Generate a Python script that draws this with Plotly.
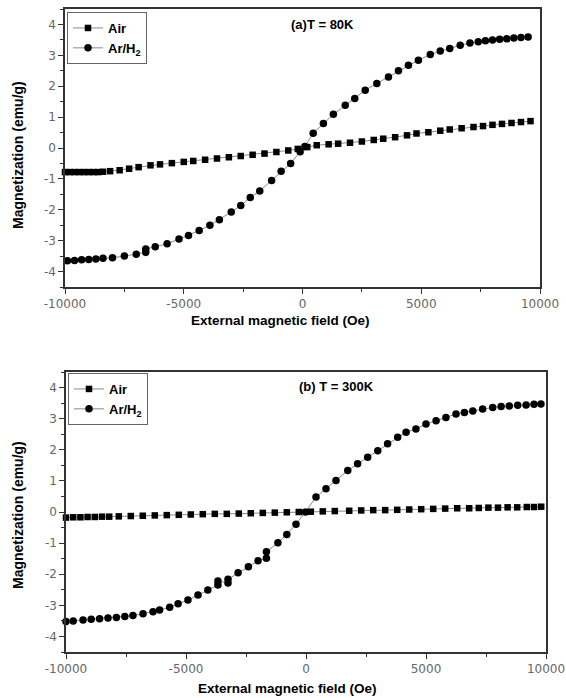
import plotly.graph_objects as go

W, H = 566, 698

# ---------------- data ----------------
# (a) T = 80K
air80_x = [-10000, -9800, -9600, -9400, -9200, -9000, -8800, -8600, -8400, -8100, -7700, -7300,
           -6900, -6400, -6000, -5500, -5000, -4600, -4100, -3600, -3100, -2600, -2100, -1600,
           -1100, -600, -200, 200, 600, 1100, 1500, 2000, 2500, 3000, 3400, 3900, 4400, 4800,
           5300, 5800, 6200, 6700, 7200, 7600, 8000, 8400, 8800, 9200, 9600]
air80_y = [-0.78, -0.78, -0.78, -0.78, -0.78, -0.78, -0.78, -0.78, -0.77, -0.75, -0.72, -0.67,
           -0.62, -0.56, -0.53, -0.49, -0.45, -0.42, -0.38, -0.34, -0.30, -0.26, -0.22, -0.18,
           -0.13, -0.08, -0.03, 0.03, 0.09, 0.12, 0.14, 0.17, 0.21, 0.26, 0.30, 0.35, 0.41, 0.47,
           0.51, 0.56, 0.60, 0.64, 0.68, 0.71, 0.75, 0.78, 0.81, 0.84, 0.87]

arh80_x = [-9900, -9600, -9300, -9000, -8700, -8400, -8000, -7500, -7000, -6600, -6600, -6200,
           -5700, -5200, -4800, -4350, -3900, -3500, -3000, -2600, -2200, -1800, -1300, -900,
           -500, -100, 100, 450, 880, 1300, 1800, 2200, 2640, 3130, 3620, 4040, 4460, 4880,
           5380, 5800, 6200, 6640, 7050, 7400, 7700, 8000, 8300, 8600, 8900, 9200, 9500]
arh80_y = [-3.65, -3.64, -3.62, -3.61, -3.59, -3.57, -3.55, -3.50, -3.44, -3.38, -3.27, -3.20,
           -3.10, -2.95, -2.83, -2.67, -2.50, -2.32, -2.07, -1.86, -1.60, -1.39, -1.05, -0.75,
           -0.50, -0.12, 0.05, 0.48, 0.79, 1.09, 1.38, 1.60, 1.87, 2.09, 2.30, 2.50, 2.68, 2.84,
           3.03, 3.14, 3.22, 3.33, 3.40, 3.44, 3.47, 3.50, 3.52, 3.54, 3.56, 3.58, 3.59]

# (b) T = 300K
air300_x = [-10000, -9700, -9400, -9100, -8800, -8500, -8200, -7800, -7300, -6800, -6300, -5800,
            -5300, -4800, -4300, -3800, -3300, -2800, -2300, -1800, -1300, -800, -300, 200, 700,
            1200, 1800, 2300, 2800, 3300, 3800, 4300, 4800, 5300, 5800, 6300, 6800, 7200, 7600,
            8000, 8400, 8800, 9200, 9500, 9800]
air300_y = [-0.18, -0.17, -0.17, -0.16, -0.16, -0.15, -0.15, -0.14, -0.13, -0.12, -0.11, -0.10,
            -0.09, -0.08, -0.07, -0.06, -0.06, -0.05, -0.04, -0.03, -0.02, -0.01, 0.00, 0.01, 0.02,
            0.03, 0.04, 0.05, 0.06, 0.06, 0.07, 0.08, 0.09, 0.10, 0.11, 0.12, 0.12, 0.13, 0.14,
            0.14, 0.15, 0.15, 0.16, 0.16, 0.17]

arh300_x = [-10000, -9700, -9290, -8950, -8600, -8250, -7900, -7550, -7210, -6790, -6375, -6100,
            -5680, -5330, -4920, -4500, -4090, -3670, -3670, -3250, -3250, -2830, -2400, -2000,
            -1650, -1650, -1170, -800, -417, -25, 417, 833, 1250, 1740, 2150, 2570, 2990, 3400,
            3820, 4170, 4580, 5000, 5420, 5830, 6250, 6600, 6950, 7360, 7780, 8130, 8470, 8820,
            9170, 9500, 9790]
arh300_y = [-3.52, -3.50, -3.47, -3.45, -3.43, -3.41, -3.39, -3.36, -3.33, -3.27, -3.21, -3.15,
            -3.06, -2.95, -2.83, -2.67, -2.51, -2.35, -2.22, -2.28, -2.16, -1.95, -1.76, -1.57,
            -1.49, -1.28, -0.99, -0.72, -0.39, 0.00, 0.48, 0.75, 1.01, 1.33, 1.55, 1.76, 1.97,
            2.19, 2.40, 2.56, 2.67, 2.83, 2.93, 3.04, 3.15, 3.20, 3.25, 3.31, 3.36, 3.39, 3.41,
            3.43, 3.44, 3.46, 3.47]

series_names = ["Air", "Ar/H<sub>2</sub>"]
panel_labels = ["(a)T = 80K", "(b) T = 300K"]
x_title = "External magnetic field (Oe)"
y_title = "Magnetization (emu/g)"
x_tickvals = [-10000, -5000, 0, 5000, 10000]
x_ticktext = ["-10000", "-5000", "0", "5000", "10000"]
y_tickvals = [-4, -3, -2, -1, 0, 1, 2, 3, 4]
y_ticktext = ["-4", "-3", "-2", "-1", "0", "1", "2", "3", "4"]
x_range = [-10000, 10000]
y_range = [-4.5, 4.5]

# ---------------- figure ----------------
fig = go.Figure()
line_style = dict(color="#8a8a8a", width=1)

panels = [
    ("x", "y", "legend", air80_x, air80_y, arh80_x, arh80_y),
    ("x2", "y2", "legend2", air300_x, air300_y, arh300_x, arh300_y),
]
for xa, ya, lg, ax_, ay_, bx_, by_ in panels:
    fig.add_trace(go.Scatter(x=ax_, y=ay_, mode="lines+markers", name=series_names[0],
                             xaxis=xa, yaxis=ya, legend=lg, line=line_style,
                             marker=dict(symbol="square", size=6.5, color="black"),
                             cliponaxis=False))
    fig.add_trace(go.Scatter(x=bx_, y=by_, mode="lines+markers", name=series_names[1],
                             xaxis=xa, yaxis=ya, legend=lg, line=line_style,
                             marker=dict(symbol="circle", size=7.5, color="black"),
                             cliponaxis=False))

def px_x(p):
    return p / W

def px_y(p):
    return 1 - p / H

tickfont = dict(family="DejaVu Sans", size=12, color="#666666")
titlefont = dict(family="Liberation Sans, Arial", size=13.5, color="black", weight="bold")
ytitlefont = dict(family="Liberation Sans Narrow, Liberation Sans, Arial", size=14,
                  color="black", weight="bold")
labelfont = dict(family="Liberation Sans, Arial", size=13, color="black", weight="bold")

def xaxis_cfg(domain, anchor):
    return dict(domain=domain, anchor=anchor, range=x_range, automargin=False,
                tickmode="array", tickvals=x_tickvals, ticktext=x_ticktext,
                showgrid=False, zeroline=False, showline=True, linecolor="#333333",
                linewidth=1.5, mirror=True, ticks="outside", ticklen=5, tickwidth=1.2,
                tickcolor="#333333", tickfont=tickfont,
                minor=dict(ticks="outside", ticklen=3, tick0=0, dtick=2500,
                           tickcolor="#333333", showgrid=False))

def yaxis_cfg(domain, anchor):
    return dict(domain=domain, anchor=anchor, range=y_range, automargin=False,
                tickmode="array", tickvals=y_tickvals, ticktext=y_ticktext,
                showgrid=False, zeroline=False, showline=True, linecolor="#333333",
                linewidth=1.5, mirror=True, ticks="outside", ticklen=5, tickwidth=1.2,
                tickcolor="#333333", tickfont=tickfont,
                minor=dict(ticks="outside", ticklen=3, tick0=0, dtick=0.5,
                           tickcolor="#333333", showgrid=False))

legend_common = dict(bordercolor="#666666", borderwidth=1, bgcolor="white",
                     font=dict(family="Liberation Sans, Arial", size=13, color="black",
                               weight="bold"),
                     xanchor="left", yanchor="top", tracegroupgap=0,
                     itemsizing="trace")

annotations = []
# panel labels
for txt, xp, yp in [(panel_labels[0], 289, 24), (panel_labels[1], 297, 386)]:
    annotations.append(dict(text=txt, xref="paper", yref="paper", x=px_x(xp), y=px_y(yp),
                            xanchor="left", yanchor="middle", showarrow=False, font=labelfont))
# axis titles
for xp, yp in [(280, 320), (287, 688)]:
    annotations.append(dict(text=x_title, xref="paper", yref="paper", x=px_x(xp), y=px_y(yp),
                            xanchor="center", yanchor="middle", showarrow=False, font=titlefont))
for xp, yp in [(18, 155), (18, 515)]:
    annotations.append(dict(text=y_title, xref="paper", yref="paper", x=px_x(xp), y=px_y(yp),
                            xanchor="center", yanchor="middle", showarrow=False,
                            textangle=-90, font=ytitlefont))

fig.update_layout(
    width=W, height=H,
    margin=dict(l=0, r=0, t=0, b=0, autoexpand=False),
    paper_bgcolor="white", plot_bgcolor="white",
    showlegend=True,
    xaxis=xaxis_cfg([px_x(65), px_x(540)], "y"),
    yaxis=yaxis_cfg([px_y(287), px_y(9)], "x"),
    xaxis2=xaxis_cfg([px_x(66), px_x(546)], "y2"),
    yaxis2=yaxis_cfg([px_y(652), px_y(372)], "x2"),
    legend=dict(x=px_x(67), y=px_y(12), **legend_common),
    legend2=dict(x=px_x(68), y=px_y(373), **legend_common),
    annotations=annotations,
)

# remove the browser's default 8px page margin so the figure fills the window exactly
fig.write_html(
    "out.html",
    config={"displayModeBar": False},
    post_script="document.documentElement.style.overflow='hidden';"
                "document.body.style.margin='0';document.body.style.overflow='hidden';",
)
